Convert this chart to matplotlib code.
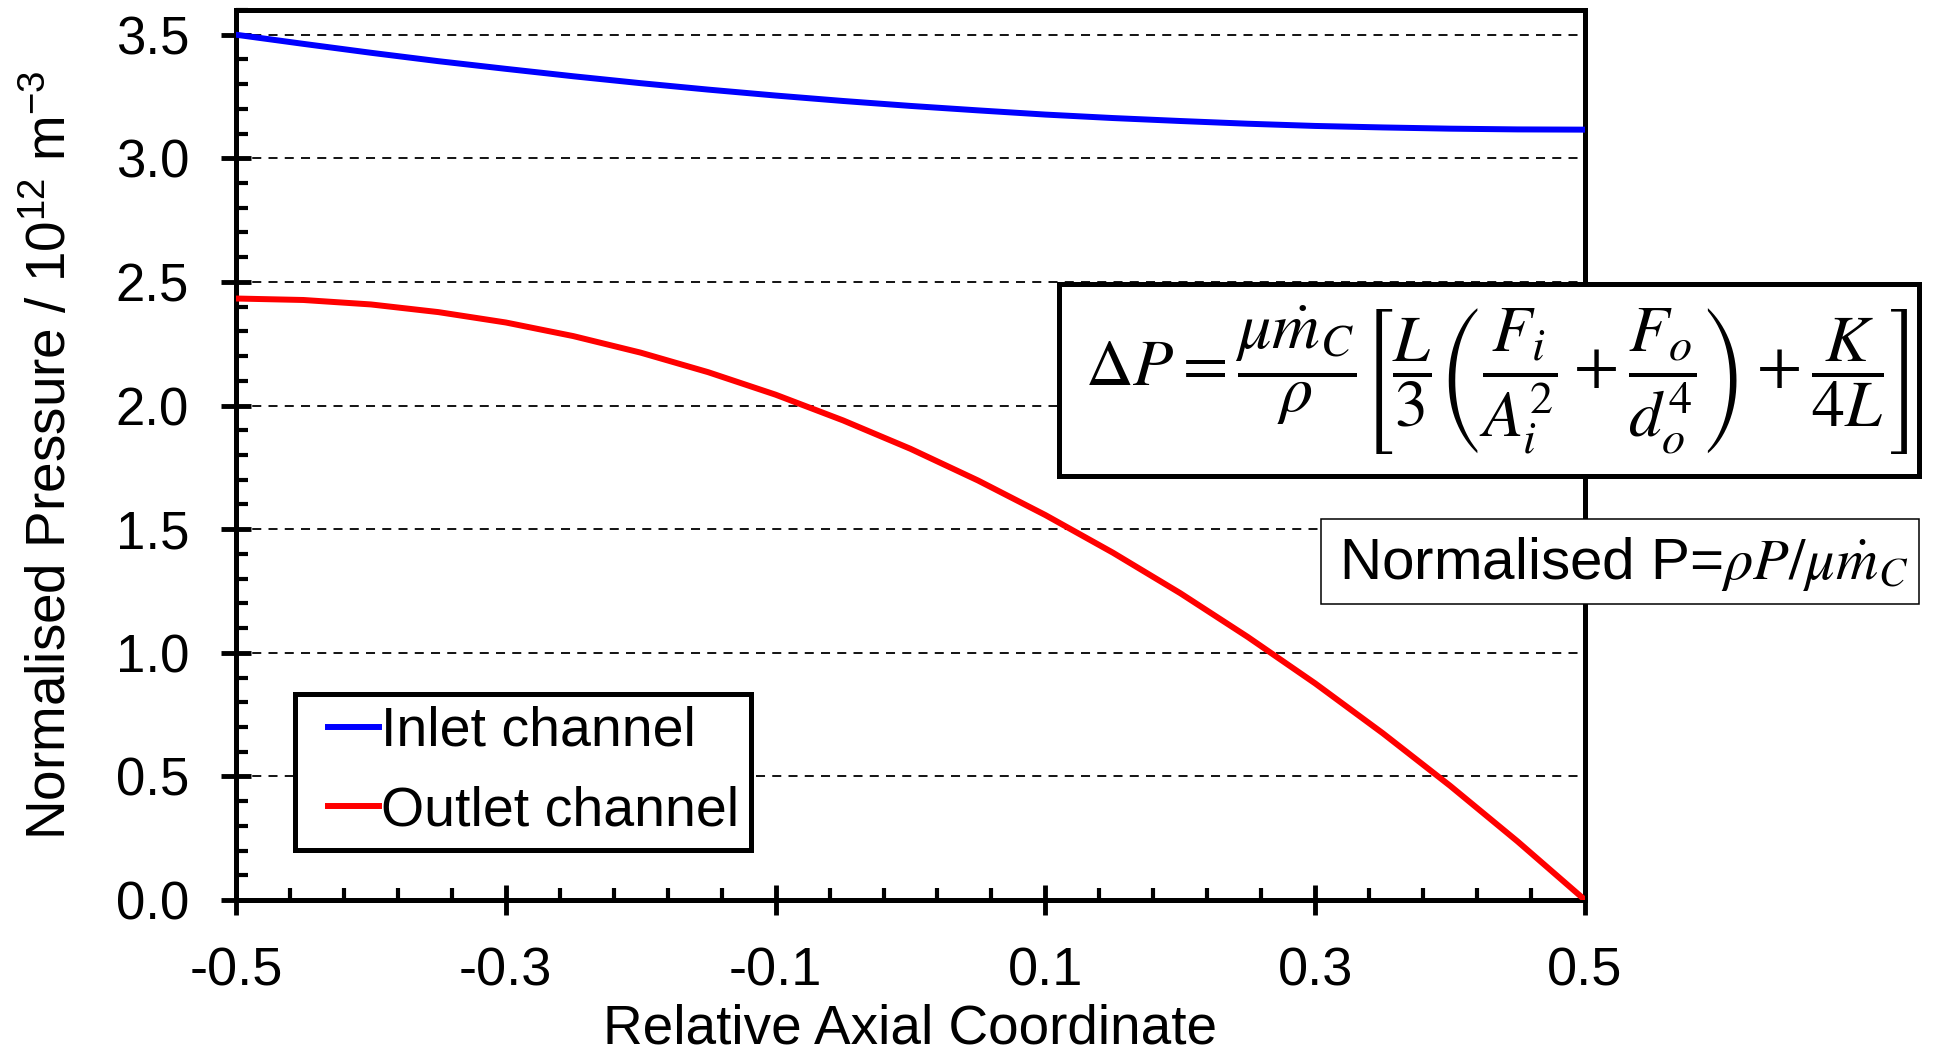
import matplotlib
matplotlib.use('Agg')
import matplotlib.pyplot as plt
import numpy as np
from matplotlib.patches import Rectangle
from matplotlib.ticker import FixedLocator
from matplotlib.lines import Line2D
from matplotlib.legend_handler import HandlerLine2D

# ---- data ----
x = [-0.50, -0.45, -0.40, -0.35, -0.30, -0.25, -0.20, -0.15, -0.10, -0.05, 0.00,
     0.05, 0.10, 0.15, 0.20, 0.25, 0.30, 0.35, 0.40, 0.45, 0.50]
inlet = [3.500, 3.463, 3.427, 3.393, 3.362, 3.332, 3.304, 3.278, 3.254, 3.232, 3.212,
         3.194, 3.177, 3.163, 3.151, 3.140, 3.131, 3.125, 3.120, 3.117, 3.116]
outlet = [2.433, 2.427, 2.409, 2.378, 2.336, 2.281, 2.214, 2.135, 2.044, 1.940, 1.825,
          1.697, 1.557, 1.405, 1.241, 1.064, 0.876, 0.675, 0.462, 0.237, 0.000]
series_labels = ['Inlet channel', 'Outlet channel']
xticks = [-0.5, -0.3, -0.1, 0.1, 0.3, 0.5]
xticklabels = ['-0.5', '-0.3', '-0.1', '0.1', '0.3', '0.5']
yticks = [0.0, 0.5, 1.0, 1.5, 2.0, 2.5, 3.0, 3.5]
yticklabels = ['0.0', '0.5', '1.0', '1.5', '2.0', '2.5', '3.0', '3.5']
xlabel = 'Relative Axial Coordinate'
ylabel = 'Normalised Pressure / 10$^{12}$ m$^{-3}$'
equation = (r'$\Delta P=\dfrac{\mu\dot{m}_C}{\rho}\left[\dfrac{L}{3}'
            r'\left(\dfrac{F_i}{A_i^2}+\dfrac{F_o}{d_o^4}\right)+\dfrac{K}{4L}\right]$')
norm_text = r'Normalised P=$\rho P/\mu\dot{m}_C$'

# ---- style ----
plt.rcParams['font.family'] = ['Liberation Sans', 'DejaVu Sans']
plt.rcParams['mathtext.fontset'] = 'custom'
plt.rcParams['mathtext.rm'] = 'Liberation Sans'
plt.rcParams['mathtext.it'] = 'Liberation Sans:italic'
plt.rcParams['mathtext.bf'] = 'Liberation Sans:bold'

FS = 38
W, H = 1960, 1059
fig = plt.figure(figsize=(W / 100, H / 100), dpi=100)
ax = fig.add_axes([236 / W, 1 - 900 / H, (1585 - 236) / W, 890 / H])

l1, = ax.plot(x, inlet, color='#0000FF', lw=4.3, label=series_labels[0], zorder=3)
l2, = ax.plot(x, outlet, color='#FF0000', lw=4.3, label=series_labels[1], zorder=3)

ax.set_xlim(-0.5, 0.5)
ax.set_ylim(0, 3.6)
ax.set_xticks(xticks)
ax.set_xticklabels(xticklabels)
ax.set_yticks(yticks)
ax.set_yticklabels(yticklabels)
ax.xaxis.set_minor_locator(FixedLocator(np.linspace(-0.5, 0.5, 26)))
ax.yaxis.set_minor_locator(FixedLocator(np.linspace(0, 3.6, 37)))
ax.tick_params(which='major', direction='inout', length=21.6, width=3.5,
               labelsize=FS, pad=23, colors='black')
ax.tick_params(axis='x', which='major', labelsize=39)
ax.tick_params(which='minor', direction='in', length=8.6, width=3.0)
ax.tick_params(which='both', top=False, right=False)
for s in ax.spines.values():
    s.set_linewidth(3.6)
    s.set_color('black')

ax.grid(axis='y', which='major', color='black', lw=1.3, linestyle=(0, (5, 4)))
ax.set_axisbelow(True)

ax.set_xlabel(xlabel, fontsize=39.5)
ax.set_ylabel(ylabel, fontsize=39.5)
ax.xaxis.set_label_coords(0.5, -(1003 - 900) / 890)
ax.yaxis.set_label_coords((78 - 236) / 1349, 0.5)


class OffsetLineHandler(HandlerLine2D):
    def __init__(self, frac=0.25, **kw):
        super().__init__(**kw)
        self.frac = frac

    def create_artists(self, legend, orig_handle, xdescent, ydescent, width,
                       height, fontsize, trans):
        arts = super().create_artists(legend, orig_handle, xdescent, ydescent,
                                      width, height, fontsize, trans)
        for a in arts:
            xd = np.asarray(a.get_xdata(), float)
            lo, hi = xd.min(), xd.max()
            a.set_xdata(lo + self.frac * (hi - lo) + (xd - lo) * (1 - self.frac))
        return arts


leg = ax.legend(handles=[l1, l2], loc='lower left',
                bbox_to_anchor=(295 / W, 1 - 850 / H), bbox_transform=fig.transFigure,
                fontsize=40, frameon=True, fancybox=False, edgecolor='black',
                framealpha=1, borderaxespad=0, handlelength=1.3, handletextpad=0.03,
                labelspacing=0.5, borderpad=0.22,
                handler_map={Line2D: OffsetLineHandler(frac=0.29)})
leg.get_frame().set_linewidth(3.6)

# equation box
x0, x1, y0, y1 = 1059, 1919, 284, 476
fig.patches.append(Rectangle((x0 / W, 1 - y1 / H), (x1 - x0) / W, (y1 - y0) / H,
                             transform=fig.transFigure, facecolor='white',
                             edgecolor='black', lw=3.6, zorder=5))
fig.text((x0 + x1) / 2 / W + 0.004, 1 - (y0 + y1) / 2 / H, equation, fontsize=47.5,
         ha='center', va='center', math_fontfamily='stix', zorder=6)

# normalised P box
x0, x1, y0, y1 = 1321, 1919, 519, 604
fig.patches.append(Rectangle((x0 / W, 1 - y1 / H), (x1 - x0) / W, (y1 - y0) / H,
                             transform=fig.transFigure, facecolor='white',
                             edgecolor='black', lw=1.1, zorder=5))
fig.text((x0 + x1) / 2 / W + 0.002, 1 - (y0 + y1) / 2 / H - 0.002, norm_text,
         fontsize=42, ha='center', va='center', math_fontfamily='stix', zorder=6)

fig.savefig('out.png', dpi=100, facecolor='white')
